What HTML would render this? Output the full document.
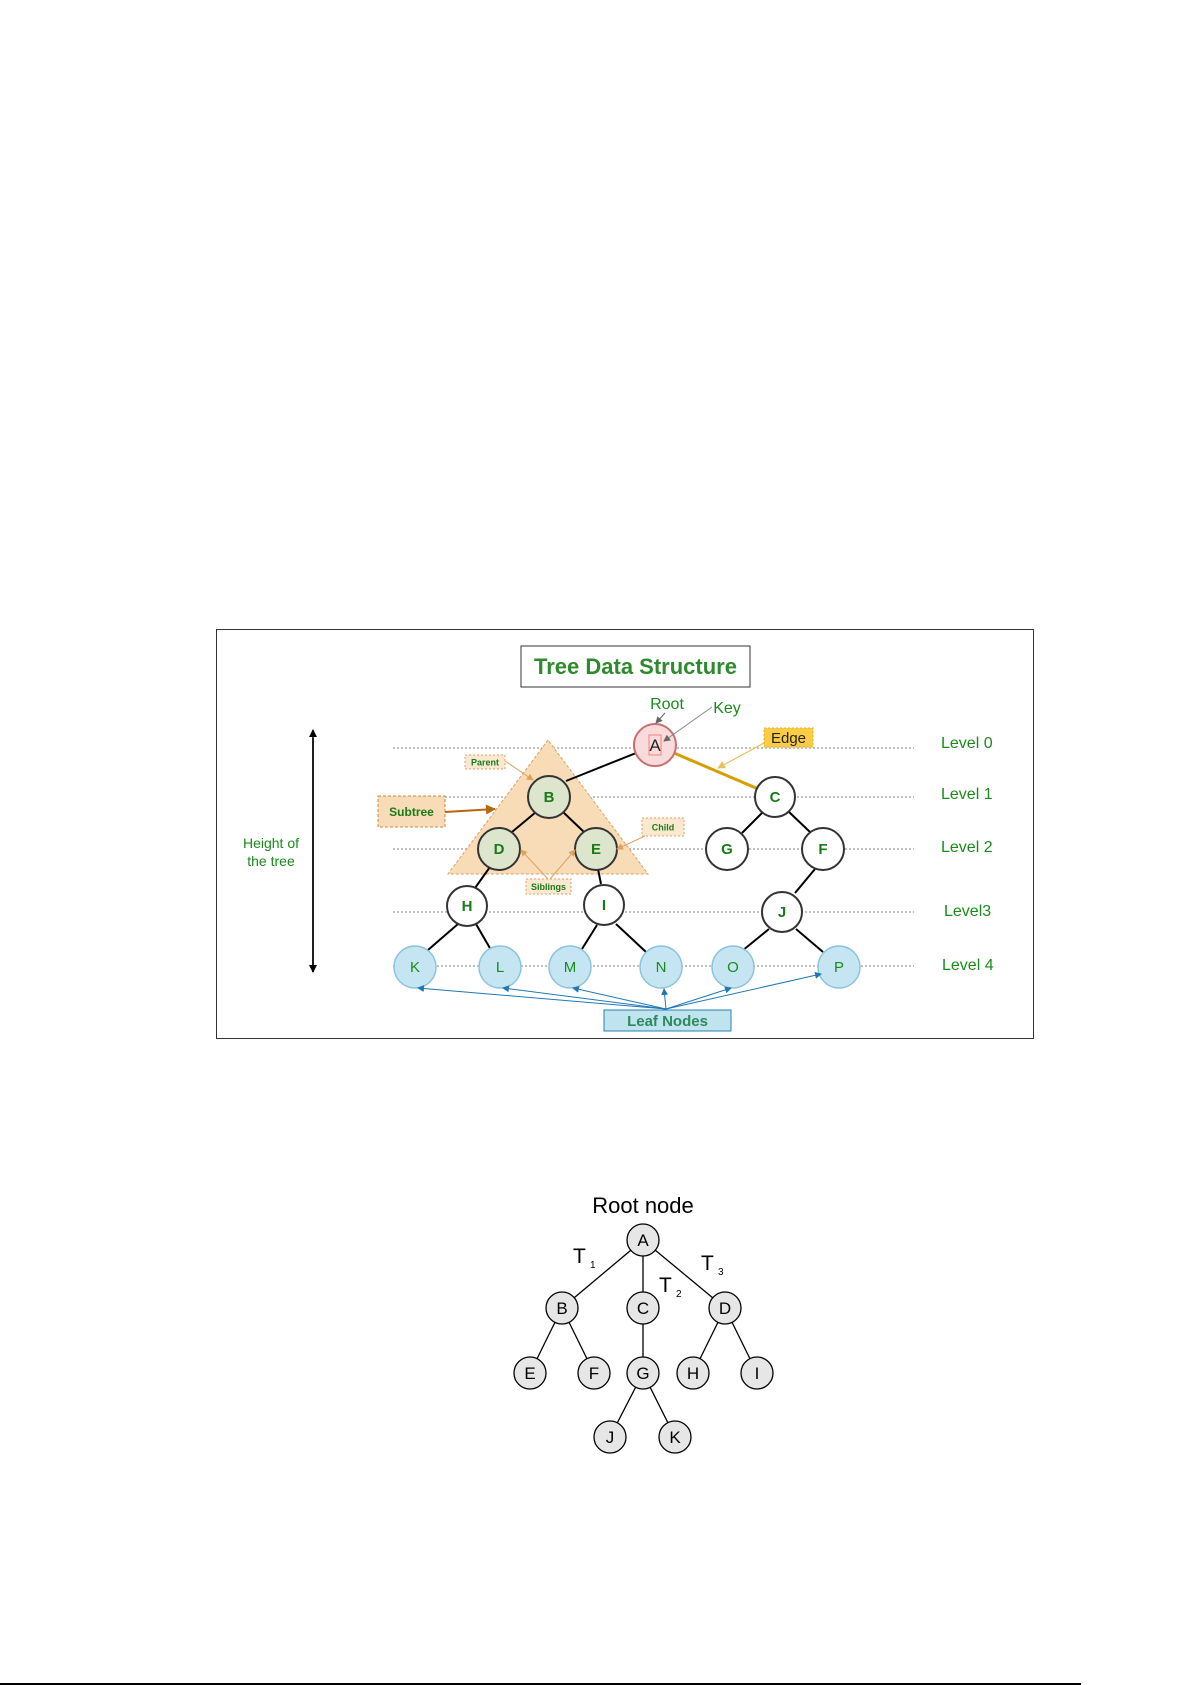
<!DOCTYPE html>
<html><head><meta charset="utf-8"><style>
html,body{margin:0;padding:0;background:#fff;}
svg{display:block;}
text{font-family:"Liberation Sans",Arial,sans-serif;}
</style></head><body>
<svg width="1192" height="1685" viewBox="0 0 1192 1685" xmlns="http://www.w3.org/2000/svg">
<defs>
<marker id="ab" markerWidth="8" markerHeight="8" refX="7" refY="4" orient="auto" markerUnits="userSpaceOnUse"><path d="M0,0 L8,4 L0,8 z" fill="#000"/></marker>
<marker id="ao" markerWidth="10" markerHeight="10" refX="9" refY="5" orient="auto" markerUnits="userSpaceOnUse"><path d="M0,0 L10,5 L0,10 z" fill="#b8660a"/></marker>
<marker id="al" markerWidth="7" markerHeight="7" refX="6" refY="3.5" orient="auto" markerUnits="userSpaceOnUse"><path d="M0,0 L7,3.5 L0,7 z" fill="#e0a060"/></marker>
<marker id="ay" markerWidth="8" markerHeight="8" refX="7" refY="4" orient="auto" markerUnits="userSpaceOnUse"><path d="M0,0 L8,4 L0,8 z" fill="#e8c060"/></marker>
<marker id="ag" markerWidth="7" markerHeight="7" refX="6" refY="3.5" orient="auto" markerUnits="userSpaceOnUse"><path d="M0,0 L7,3.5 L0,7 z" fill="#666"/></marker>
<marker id="abl" markerWidth="7" markerHeight="7" refX="6" refY="3.5" orient="auto" markerUnits="userSpaceOnUse"><path d="M0,0 L7,3.5 L0,7 z" fill="#1f78b4"/></marker>
</defs>

<!-- frame -->
<rect x="216.5" y="629.5" width="817" height="409" fill="#fff" stroke="#333" stroke-width="1"/>
<rect x="521" y="646" width="229" height="41" fill="#fff" stroke="#333" stroke-width="1"/>
<text x="635.5" y="674" text-anchor="middle" font-size="22" font-weight="bold" fill="#2d8a2d">Tree Data Structure</text>

<!-- dotted level lines -->
<g stroke="#999" stroke-width="1.2" stroke-dasharray="2,2">
<line x1="393" y1="748" x2="914" y2="748"/>
<line x1="393" y1="797" x2="914" y2="797"/>
<line x1="393" y1="849" x2="914" y2="849"/>
<line x1="393" y1="912" x2="914" y2="912"/>
<line x1="393" y1="966" x2="914" y2="966"/>
</g>

<!-- triangle -->
<polygon points="548,740 448,874 648,874" fill="#f8dcb8" stroke="#e0a060" stroke-width="1" stroke-dasharray="3,2"/>

<!-- edges -->
<g stroke="#000" stroke-width="2">
<line x1="636" y1="753" x2="566" y2="781"/>
<line x1="536" y1="812" x2="512" y2="832"/>
<line x1="563" y1="812" x2="584" y2="832"/>
<line x1="490" y1="867" x2="475" y2="888"/>
<line x1="598" y1="869" x2="601" y2="884"/>
<line x1="763" y1="812" x2="742" y2="833"/>
<line x1="789" y1="812" x2="810" y2="832"/>
<line x1="815" y1="869" x2="795" y2="893"/>
<line x1="458" y1="924" x2="428" y2="950"/>
<line x1="476" y1="924" x2="491" y2="950"/>
<line x1="597" y1="925" x2="582" y2="949"/>
<line x1="616" y1="924" x2="646" y2="952"/>
<line x1="769" y1="929" x2="742" y2="951"/>
<line x1="796" y1="929" x2="823" y2="952"/>
</g>
<line x1="674" y1="753" x2="756" y2="788" stroke="#d4a000" stroke-width="3"/>

<!-- nodes -->
<g stroke="#333" stroke-width="2">
<circle cx="655" cy="745" r="21" fill="#fadbdb" stroke="#c87070"/>
<circle cx="549" cy="797" r="21" fill="#dde5cc"/>
<circle cx="499" cy="849" r="21" fill="#dde5cc"/>
<circle cx="596" cy="849" r="21" fill="#dde5cc"/>
<circle cx="775" cy="797" r="20" fill="#fff"/>
<circle cx="727" cy="849" r="21" fill="#fff"/>
<circle cx="823" cy="849" r="21" fill="#fff"/>
<circle cx="467" cy="906" r="20" fill="#fff"/>
<circle cx="604" cy="905" r="20" fill="#fff"/>
<circle cx="782" cy="912" r="20" fill="#fff"/>
</g>
<g fill="#c6e5f2" stroke="#8cc3dc" stroke-width="1.5">
<circle cx="415" cy="967" r="21"/>
<circle cx="500" cy="967" r="21"/>
<circle cx="570" cy="967" r="21"/>
<circle cx="661" cy="967" r="21"/>
<circle cx="733" cy="967" r="21"/>
<circle cx="839" cy="967" r="21"/>
</g>
<rect x="649" y="735" width="12" height="20" fill="none" stroke="#f08080" stroke-width="1"/>
<g font-size="15" text-anchor="middle" fill="#1a7a1a" font-weight="bold">
<text x="549" y="802">B</text><text x="499" y="854">D</text><text x="596" y="854">E</text>
<text x="775" y="802">C</text><text x="727" y="854">G</text><text x="823" y="854">F</text>
<text x="467" y="911">H</text><text x="604" y="910">I</text><text x="782" y="917">J</text>
</g>
<text x="655" y="751" font-size="17" text-anchor="middle" fill="#222">A</text>
<g font-size="15" text-anchor="middle" fill="#1a8a1a">
<text x="415" y="972">K</text><text x="500" y="972">L</text><text x="570" y="972">M</text>
<text x="661" y="972">N</text><text x="733" y="972">O</text><text x="839" y="972">P</text>
</g>

<!-- labels -->
<text x="667" y="709" font-size="16" text-anchor="middle" fill="#1a8a1a">Root</text>
<text x="727" y="713" font-size="16" text-anchor="middle" fill="#1a8a1a">Key</text>
<line x1="665" y1="713" x2="656" y2="723" stroke="#666" stroke-width="1" marker-end="url(#ag)"/>
<line x1="712" y1="707" x2="664" y2="741" stroke="#888" stroke-width="1" marker-end="url(#ag)"/>

<rect x="764" y="728" width="49" height="19" fill="#fbcc44" stroke="#e8b020" stroke-width="1" stroke-dasharray="2,2"/>
<text x="788.5" y="743" font-size="15" text-anchor="middle" fill="#222">Edge</text>
<line x1="764" y1="743" x2="718" y2="768" stroke="#e8c060" stroke-width="1.2" marker-end="url(#ay)"/>

<rect x="378" y="796" width="67" height="31" fill="#f8dcb8" stroke="#d08840" stroke-width="1" stroke-dasharray="3,2"/>
<text x="411.5" y="816" font-size="12" font-weight="bold" text-anchor="middle" fill="#1a7a1a">Subtree</text>
<line x1="445" y1="812" x2="495" y2="809" stroke="#b8660a" stroke-width="2" marker-end="url(#ao)"/>

<rect x="465" y="755" width="40" height="14" fill="#fbe8d0" stroke="#e0a060" stroke-width="1" stroke-dasharray="2,2"/>
<text x="485" y="765.5" font-size="9" font-weight="bold" text-anchor="middle" fill="#1a7a1a">Parent</text>
<line x1="505" y1="761" x2="533" y2="780" stroke="#e0a060" stroke-width="1" marker-end="url(#al)"/>

<rect x="642" y="818" width="42" height="18" fill="#fbe8d0" stroke="#e0a060" stroke-width="1" stroke-dasharray="2,2"/>
<text x="663" y="830.5" font-size="9" font-weight="bold" text-anchor="middle" fill="#1a7a1a">Child</text>
<line x1="645" y1="836" x2="617" y2="849" stroke="#e0a060" stroke-width="1" marker-end="url(#al)"/>

<rect x="526" y="879" width="45" height="15" fill="#fbe8d0" stroke="#e0a060" stroke-width="1" stroke-dasharray="2,2"/>
<text x="548.5" y="890" font-size="9" font-weight="bold" text-anchor="middle" fill="#1a7a1a">Siblings</text>
<line x1="548" y1="879" x2="521" y2="850" stroke="#e0a060" stroke-width="1" marker-end="url(#al)"/>
<line x1="550" y1="879" x2="575" y2="850" stroke="#e0a060" stroke-width="1" marker-end="url(#al)"/>

<!-- height -->
<text x="271" y="848" font-size="14" text-anchor="middle" fill="#1a8a1a">Height of</text>
<text x="271" y="866" font-size="14" text-anchor="middle" fill="#1a8a1a">the tree</text>
<line x1="313" y1="738" x2="313" y2="972" stroke="#000" stroke-width="1.5" marker-end="url(#ab)"/>
<line x1="313" y1="972" x2="313" y2="730" stroke="#000" stroke-width="1.5" marker-end="url(#ab)"/>

<!-- levels -->
<g font-size="16" fill="#1a8a1a">
<text x="941" y="748">Level 0</text>
<text x="941" y="799">Level 1</text>
<text x="941" y="852">Level 2</text>
<text x="944" y="916">Level3</text>
<text x="942" y="970">Level 4</text>
</g>

<!-- leaf nodes -->
<rect x="604" y="1010" width="127" height="21" fill="#bfe3ef" stroke="#2a80b0" stroke-width="1"/>
<text x="667.5" y="1026" font-size="15" font-weight="bold" text-anchor="middle" fill="#2d8a5a">Leaf Nodes</text>
<g stroke="#1f78b4" stroke-width="1" fill="none">
<line x1="666" y1="1009" x2="418" y2="988" marker-end="url(#abl)"/>
<line x1="666" y1="1009" x2="503" y2="988" marker-end="url(#abl)"/>
<line x1="666" y1="1009" x2="573" y2="988" marker-end="url(#abl)"/>
<line x1="666" y1="1009" x2="664" y2="989" marker-end="url(#abl)"/>
<line x1="666" y1="1009" x2="731" y2="988" marker-end="url(#abl)"/>
<line x1="666" y1="1009" x2="821" y2="974" marker-end="url(#abl)"/>
</g>

<!-- second tree -->
<text x="643" y="1213" font-size="22" text-anchor="middle" fill="#000">Root node</text>
<g stroke="#000" stroke-width="1.3">
<line x1="643" y1="1240" x2="562" y2="1308"/>
<line x1="643" y1="1240" x2="643" y2="1308"/>
<line x1="643" y1="1240" x2="725" y2="1308"/>
<line x1="562" y1="1308" x2="530" y2="1373"/>
<line x1="562" y1="1308" x2="594" y2="1373"/>
<line x1="643" y1="1308" x2="643" y2="1373"/>
<line x1="725" y1="1308" x2="693" y2="1373"/>
<line x1="725" y1="1308" x2="757" y2="1373"/>
<line x1="643" y1="1373" x2="610" y2="1437"/>
<line x1="643" y1="1373" x2="675" y2="1437"/>
</g>
<g fill="#e6e6e6" stroke="#000" stroke-width="1.3">
<circle cx="643" cy="1240" r="16"/>
<circle cx="562" cy="1308" r="16"/><circle cx="643" cy="1308" r="16"/><circle cx="725" cy="1308" r="16"/>
<circle cx="530" cy="1373" r="16"/><circle cx="594" cy="1373" r="16"/><circle cx="643" cy="1373" r="16"/>
<circle cx="693" cy="1373" r="16"/><circle cx="757" cy="1373" r="16"/>
<circle cx="610" cy="1437" r="16"/><circle cx="675" cy="1437" r="16"/>
</g>
<g font-size="17" text-anchor="middle" fill="#000">
<text x="643" y="1246">A</text>
<text x="562" y="1314">B</text><text x="643" y="1314">C</text><text x="725" y="1314">D</text>
<text x="530" y="1379">E</text><text x="594" y="1379">F</text><text x="643" y="1379">G</text>
<text x="693" y="1379">H</text><text x="757" y="1379">I</text>
<text x="610" y="1443">J</text><text x="675" y="1443">K</text>
</g>
<g font-size="21" fill="#000">
<text x="573" y="1263">T</text><text x="590" y="1268" font-size="10">1</text>
<text x="659" y="1292">T</text><text x="676" y="1297" font-size="10">2</text>
<text x="701" y="1270">T</text><text x="718" y="1275" font-size="10">3</text>
</g>

<line x1="0" y1="1684" x2="1081" y2="1684" stroke="#000" stroke-width="2"/>
</svg>
</body></html>
